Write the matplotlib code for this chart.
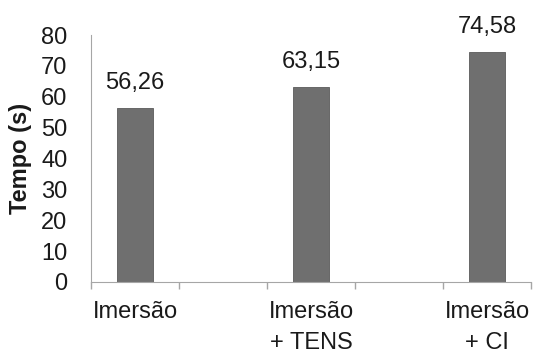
import matplotlib.pyplot as plt
import numpy as np

plt.rcParams['font.family'] = ['Liberation Sans', 'DejaVu Sans']

# Tempo médio por método (as colunas vazias separam os grupos)
categorias = ['Imersão', '', 'Imersão\n+ TENS', '', 'Imersão\n+ CI']
tempos = [56.26, np.nan, 63.15, np.nan, 74.58]
rotulos = ['56,26', '', '63,15', '', '74,58']

fig = plt.figure(figsize=(5.33, 3.49), dpi=100)
ax = fig.add_axes([91 / 533, 1 - 282 / 349, 440 / 533, 247 / 349])

x = np.arange(len(categorias))
barras = ax.bar(x, tempos, width=0.4, color='#6f6f6f', edgecolor='#5a5a5a', linewidth=0.6)

for xi, v, r in zip(x, tempos, rotulos):
    if r:
        ax.annotate(r, (xi, v), xytext=(0, 10), textcoords='offset points',
                    ha='center', va='bottom', fontsize=17, color='#1a1a1a')

ax.set_xlim(-0.5, len(categorias) - 0.5)
ax.set_ylim(0, 80)
ax.set_yticks(range(0, 81, 10))
ax.tick_params(axis='y', length=0, pad=17, labelsize=17, labelcolor='#1a1a1a')

# marcas entre categorias, rótulos no centro
ax.set_xticks(np.arange(-0.5, len(categorias), 1.0))
ax.set_xticklabels([])
ax.tick_params(axis='x', which='major', length=5, color='#a6a6a6', width=1)
ax.set_xticks(x, minor=True)
ax.set_xticklabels(categorias, minor=True, fontsize=17, color='#1a1a1a', linespacing=1.5)
ax.tick_params(axis='x', which='minor', length=0, pad=14)

for lado in ['top', 'right']:
    ax.spines[lado].set_visible(False)
ax.spines['left'].set_color('#a6a6a6')
ax.spines['bottom'].set_color('#a6a6a6')

ax.set_ylabel('Tempo (s)', fontsize=17, fontweight='bold', color='#1a1a1a')
ax.yaxis.set_label_coords(-0.135, 0.5)

fig.savefig('out.png', dpi=100)
